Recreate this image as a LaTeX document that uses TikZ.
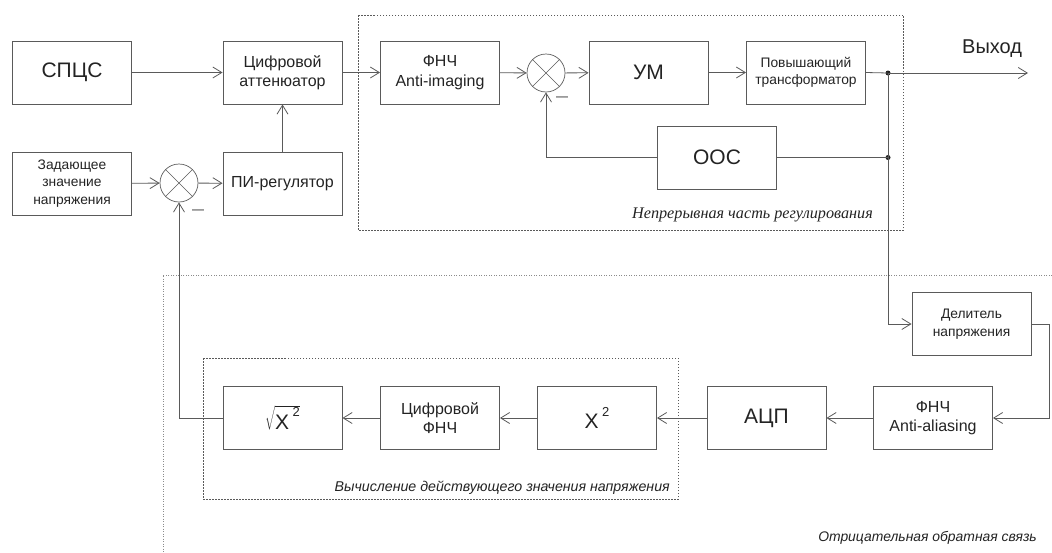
\documentclass[tikz,border=0pt]{standalone}
\usepackage{fontspec}
\setmainfont{Liberation Sans}
\newfontfamily\capserif{Liberation Serif}
\usetikzlibrary{arrows.meta}
\definecolor{lc}{RGB}{90,90,90}
\definecolor{tc}{RGB}{35,35,35}
\begin{document}
\begin{tikzpicture}[x=1pt,y=-1pt,
 blk/.style={draw=lc, line width=0.9pt, minimum width=119pt, minimum height=63pt, align=center, text=tc, inner sep=0pt},
 big/.style={font=\fontsize{21}{24}\selectfont},
 mid/.style={font=\fontsize{16}{19.5}\selectfont},
 sml/.style={font=\fontsize{13.8}{17.5}\selectfont},
 sumc/.style={draw=lc, line width=0.7pt, circle, minimum size=38pt, inner sep=0pt,
   path picture={\draw[lc, line width=0.6pt] (path picture bounding box.north west)--(path picture bounding box.south east) (path picture bounding box.north east)--(path picture bounding box.south west);}},
 conn/.style={draw=lc, line width=0.8pt},
 arr/.style={conn, -{Straight Barb[length=9pt,width=11pt]}},
 region/.style={draw=lc, line width=0.6pt, dash pattern=on 1.5pt off 1.5pt},
 outer/.style={draw=lc!70, line width=0.6pt, dash pattern=on 1pt off 1.5pt},
 capt/.style={text=tc, inner sep=0pt},
 minus/.style={text=tc, inner sep=0pt, font=\fontsize{12}{12}\selectfont},
 dot/.style={circle, fill=tc, inner sep=0pt, minimum size=5pt}
]
\useasboundingbox (0,0) rectangle (1052,552);
% regions
\draw[region] (358,15) rectangle (903,230);
\draw[region] (203,358) rectangle (678,499);
\draw[outer] (1052,275) -- (163,275) -- (163,552);
% blocks
\node[blk,big] (spcs) at (72,72.5) {СПЦС};
\node[blk,mid] (att) at (282.5,72.5) {Цифровой\\аттенюатор};
\node[blk,sml] (zad) at (72,183.5) {Задающее\\значение\\напряжения};
\node[sumc] (sum1) at (179,183) {};
\node[blk,mid] (pi) at (282.5,183.5) {ПИ-регулятор};
\node[blk,mid] (fnch1) at (440,72.5) {ФНЧ\\Anti-imaging};
\node[sumc] (sum2) at (546,73) {};
\node[blk,big] (um) at (648.5,72.5) {УМ};
\node[blk,sml] (pov) at (806,72.5) {Повышающий\\трансформатор};
\node[blk,big] (oos) at (717,157.5) {ООС};
\node[blk,sml] (del) at (971.5,324) {Делитель\\напряжения};
\node[blk,mid] (fnch2) at (933,418) {ФНЧ\\Anti-aliasing};
\node[blk,big] (adc) at (766.5,418) {АЦП};
\node[blk,big] (x2) at (597,418) {X\,\raisebox{0.6em}{\fontsize{13}{13}\selectfont 2}};
\node[blk,mid] (dfnch) at (440,418) {Цифровой\\ФНЧ};
\node[blk,big] (sqrt) at (282.5,418) {$\sqrt{\hbox{X\,\raisebox{0.6em}{\fontsize{13}{13}\selectfont 2}}}$};
% junctions
\node[dot] (j1) at (888,73) {};
\node[dot] (j2) at (888,157.5) {};
\coordinate (out) at (1028,73);
\coordinate (c1) at (1049,324);
% labels
\node[capt, anchor=base west, font=\fontsize{20}{24}\selectfont] (vyh) at (962,53) {Выход};
\node[minus] (m1) at (198,212) {—};
\node[minus] (m2) at (562,99) {—};
\node[capt, anchor=base east, font=\capserif\itshape\fontsize{16.2}{19}\selectfont] (cap1) at (873,218) {Непрерывная часть регулирования};
\node[capt, anchor=base east, font=\itshape\fontsize{14.2}{17}\selectfont] (cap2) at (670,491) {Вычисление действующего значения напряжения};
\node[capt, anchor=base east, font=\itshape\fontsize{13.9}{16}\selectfont] (cap3) at (1037,541) {Отрицательная обратная связь};
% connectors
\draw[arr] (spcs) -- (att);
\draw[arr] (att) -- (fnch1);
\draw[arr] (zad) -- (sum1);
\draw[arr] (sum1) -- (pi);
\draw[arr] (pi) -- (att);
\draw[arr] (fnch1) -- (sum2);
\draw[arr] (sum2) -- (um);
\draw[arr] (um) -- (pov);
\draw[conn] (pov.east) -- (j1.center);
\draw[arr] (j1.center) -- (out);
\draw[conn] (oos.east) -- (j2.center);
\draw[arr] (oos.west) -| (sum2.south);
\draw[conn] (j1.center) -- (j2.center);
\draw[arr] (j2.center) |- (del.west);
\draw[arr] (del.east) -- (c1) |- (fnch2.east);
\draw[arr] (fnch2) -- (adc);
\draw[arr] (adc) -- (x2);
\draw[arr] (x2) -- (dfnch);
\draw[arr] (dfnch) -- (sqrt);
\draw[arr] (sqrt.west) -| (sum1.south);
\end{tikzpicture}
\end{document}
